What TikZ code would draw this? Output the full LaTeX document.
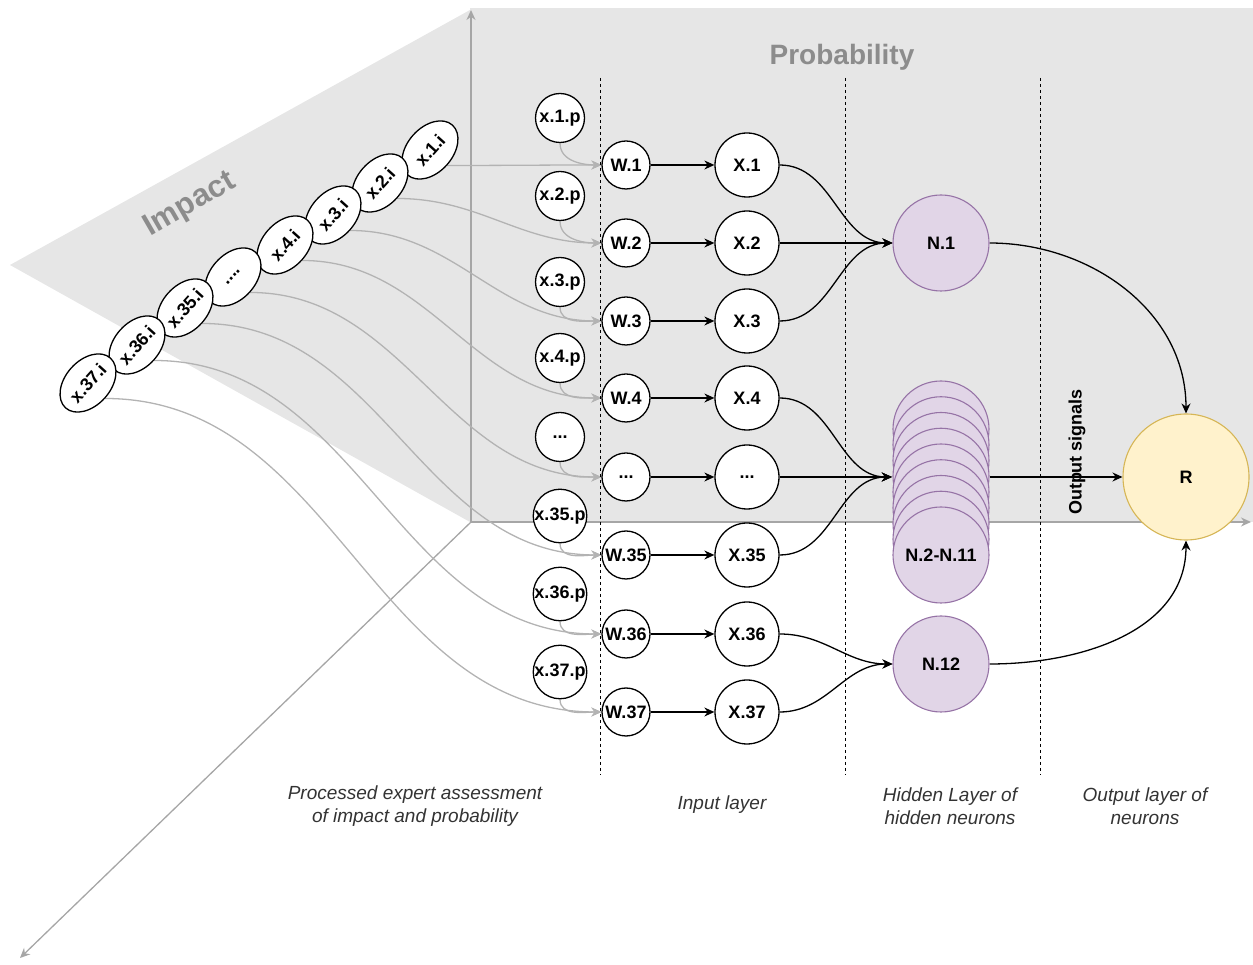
\documentclass[tikz,border=0pt]{standalone}
\usepackage{fontspec}
\setmainfont{Liberation Sans}
\usetikzlibrary{arrows.meta,shapes.geometric}
\definecolor{planegray}{HTML}{E6E6E6}
\definecolor{axisgray}{HTML}{A6A6A6}
\definecolor{edgegray}{HTML}{B3B3B3}
\definecolor{purpfill}{HTML}{E1D5E7}
\definecolor{purpline}{HTML}{9673A6}
\definecolor{yelfill}{HTML}{FFF2CC}
\definecolor{yelline}{HTML}{D6B656}
\definecolor{titlegray}{HTML}{8C8C8C}
\definecolor{labelgray}{HTML}{333333}
\def\mydotsthree{...}
\def\mydotsfour{....}
\pgfdeclarelayer{back}
\pgfdeclarelayer{edges}
\pgfsetlayers{back,edges,main}
\begin{document}
\begin{tikzpicture}[x=1pt,y=1pt,
  nodefont/.style={font=\fontsize{18}{20}\selectfont\bfseries},
  pcirc/.style={circle,draw=black,line width=1.3pt,fill=white,minimum size=49pt,inner sep=0pt,nodefont},
  wcirc/.style={pcirc,minimum size=48pt},
  xcirc/.style={pcirc,minimum size=64pt},
  ncirc/.style={circle,draw=purpline,line width=1.1pt,fill=purpfill,minimum size=96pt,inner sep=0pt,nodefont},
  rcirc/.style={circle,draw=yelline,line width=1.1pt,fill=yelfill,minimum size=126pt,inner sep=0pt,nodefont},
  ellnode/.style={ellipse,draw=black,line width=1.3pt,fill=white,minimum width=67pt,minimum height=45pt,inner sep=0pt,rotate=48,nodefont},
  blk/.style={draw=black,line width=1.3pt,-{Stealth[length=10pt,width=9pt]}},
  gry/.style={draw=edgegray,line width=1.3pt,-{Stealth[length=10pt,width=9pt]}},
  axis/.style={draw=axisgray,line width=1.3pt,-{Stealth[length=10pt,width=9pt]}},
  layerdiv/.style={draw=black,line width=1pt,dash pattern=on 3pt off 3pt},
  bottomlabel/.style={align=center,text=labelgray,font=\fontsize{19}{23}\selectfont\itshape},
  title/.style={text=titlegray,font=\fontsize{28}{32}\selectfont\bfseries}
]
\useasboundingbox (0,0) rectangle (1253,964);

\begin{pgfonlayer}{back}
  \fill[planegray] (470,442) rectangle (1253,956);
  \fill[planegray] (10,699) -- (470,954) -- (470,442) -- cycle;
  \coordinate (origin) at (471,442);
  \coordinate (upend) at (471,954);
  \coordinate (rightend) at (1251,442);
  \coordinate (diagend) at (20,6);
  \draw[axis] (origin) -- (upend);
  \draw[axis] (origin) -- (rightend);
  \draw[axis] (origin) -- (diagend);
\end{pgfonlayer}

% titles
\node[title] (probtitle) at (842,907) {Probability};
\node[title,rotate=30,font=\fontsize{31}{34}\selectfont\bfseries] (imptitle) at (190,759) {Impact};

% layer dividers
\foreach \xx [count=\i] in {600,845,1040} {
  \coordinate (dtop\i) at (\xx,886);
  \coordinate (dbot\i) at (\xx,189);
  \draw[layerdiv] (dtop\i) -- (dbot\i);
}

% p circles
\foreach \n/\lab/\yy in {1/x.1.p/846, 2/x.2.p/768, 3/x.3.p/682, 4/x.4.p/606, d/\mydotsthree/527, 35/x.35.p/448, 36/x.36.p/370, 37/x.37.p/292} {
  \node[pcirc] (p\n) at (560,\yy) {\lab};
}
% W and X circles
\foreach \n/\wl/\xl/\yy in {1/W.1/X.1/799, 2/W.2/X.2/721, 3/W.3/X.3/643, 4/W.4/X.4/566, d/\mydotsthree/\mydotsthree/487, 35/W.35/X.35/409, 36/W.36/X.36/330, 37/W.37/X.37/252} {
  \node[wcirc] (w\n) at (626,\yy) {\wl};
  \node[xcirc] (x\n) at (747,\yy) {\xl};
}
% impact ellipses
\foreach \n/\lab/\xx/\yy in {1/x.1.i/430/814, 2/x.2.i/380/781, 3/x.3.i/333/749, 4/x.4.i/285/719, d/\mydotsfour/233/687, 35/x.35.i/185/656, 36/x.36.i/137/619, 37/x.37.i/88/581} {
  \node[ellnode] (e\n) at (\xx,\yy) {\lab};
}

% hidden neurons
\node[ncirc] (n1) at (941,721) {N.1};
\foreach \k in {0,1,2,3,4,5,6,7,8} {
  \node[ncirc] (s\k) at (941,535-15.75*\k) {};
}
\node[nodefont] (stacklabel) at (941,409) {N.2-N.11};
\node[draw=none,minimum width=98pt,minimum height=20pt,inner sep=0pt] (stack) at (941,487) {};
\node[ncirc] (n12) at (941,300) {N.12};

% output
\node[rcirc] (r) at (1186,487) {R};
\node[rotate=90,font=\fontsize{18}{20}\selectfont\bfseries] (outsig) at (1077,512) {Output signals};

% bottom labels
\node[bottomlabel] (lab1) at (415,158) {Processed expert assessment\\of impact and probability};
\node[bottomlabel] (lab2) at (722,159) {Input layer};
\node[bottomlabel] (lab3) at (950,158) {Hidden Layer of\\hidden neurons};
\node[bottomlabel] (lab4) at (1145,158) {Output layer of\\neurons};

% edges
\begin{pgfonlayer}{edges}
\foreach \n in {1,2,3,4,d,35,36,37} {
  \draw[gry] (e\n.south) to[out=0,in=180] (w\n.west);
  \draw[gry] (p\n.south) to[out=-90,in=180] (w\n.west);
  \draw[blk] (w\n) -- (x\n);
}
\foreach \n in {1,2,3} { \draw[blk] (x\n.east) to[out=0,in=180] (n1.west); }
\foreach \n in {4,d,35} { \draw[blk] (x\n.east) to[out=0,in=180] (stack.west); }
\foreach \n in {36,37} { \draw[blk] (x\n.east) to[out=0,in=180] (n12.west); }
\draw[blk] (n1.east) to[out=0,in=90] (r.north);
\draw[blk] (stack.east) -- (r.west);
\draw[blk] (n12.east) to[out=0,in=-90] (r.south);
\end{pgfonlayer}
\end{tikzpicture}
\end{document}
